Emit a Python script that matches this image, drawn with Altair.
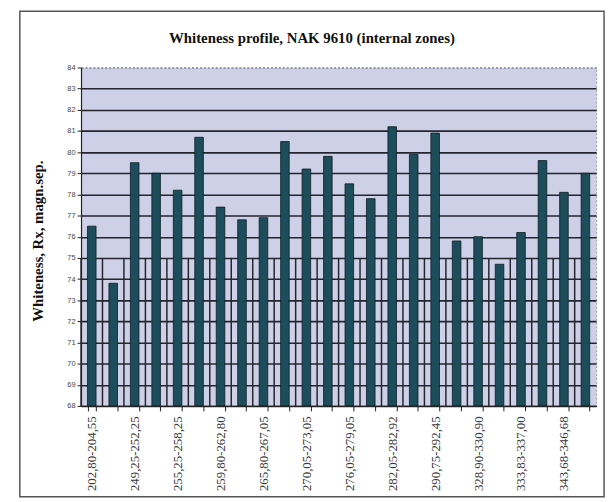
import altair as alt
import pandas as pd

# Labels shown under every second bar (the sheet skipped the others)
zone_labels = ["202,80-204,55", "249,25-252,25", "255,25-258,25", "259,80-262,80",
               "265,80-267,05", "270,05-273,05", "276,05-279,05", "282,05-282,92",
               "290,75-292,45", "328,90-330,90", "333,83-337,00", "343,68-346,68"]
whiteness = [76.5, 73.8, 79.5, 79.0, 78.2, 80.7, 77.4, 76.8, 76.9, 80.5, 79.2, 79.8,
             78.5, 77.8, 81.2, 79.9, 80.9, 75.8, 76.0, 74.7, 76.2, 79.6, 78.1, 79.0]
y_ticks = list(range(68, 85))
title_text = "Whiteness profile, NAK 9610 (internal zones)"

n = len(whiteness)
all_labels = []
for i in range(n):
    all_labels.append(zone_labels[i // 2] if i % 2 == 0 else "")

df = pd.DataFrame({"idx": list(range(n)), "value": whiteness, "label": all_labels})

js_labels = "[" + ",".join("'" + s + "'" for s in all_labels) + "]"

W, H = 522, 343
SERIF = "Liberation Serif"
STEP = W / n

x_scale = alt.Scale(paddingInner=0.6, paddingOuter=0.3)
y_scale = alt.Scale(domain=[68, 84], nice=False, zero=False)

x_axis = alt.Axis(
    title=None, labelExpr=js_labels + "[datum.value]", labelAngle=-90,
    labelFont=SERIF, labelFontSize=13, labelColor="#3a3a3a", labelPadding=5,
    tickBand="extent", tickSize=5, tickColor="#222", domainColor="#222",
    domainWidth=1.2, grid=False, labelOverlap=False, zindex=1,
)
y_axis = alt.Axis(
    title="Whiteness, Rx, magn.sep.", values=y_ticks, format="d",
    titleFont=SERIF, titleFontSize=15, titleFontWeight="bold", titleColor="#111",
    titleX=-44, titleY=H / 2 + 4, titleAngle=-90, titleAlign="center", titleBaseline="middle",
    labelFont="Liberation Sans", labelFontSize=7.5, labelColor="#444", labelPadding=2,
    tickSize=4, tickColor="#222", domainColor="#222", domainWidth=1.2,
    grid=True, gridWidth=1.6,
    gridColor={"condition": {"test": "datum.value == 84", "value": "#8a8a99"}, "value": "#25252f"},
    gridDash={"condition": {"test": "datum.value == 84", "value": [2, 2]}, "value": []},
)

base = alt.Chart(df)

vlines = base.mark_rule(color="#25252f", strokeWidth=1.5, xOffset=-0.3 * STEP).encode(
    x=alt.X("idx:O", scale=x_scale, axis=x_axis, bandPosition=0),
    y=alt.YDatum(68, scale=y_scale, axis=y_axis),
    y2=alt.datum(75),
)

bars = base.mark_bar(color="#1d4d5b", stroke="#0b1d24", strokeWidth=0.8, clip=True).encode(
    x=alt.X("idx:O", scale=x_scale, axis=x_axis),
    y=alt.Y("value:Q", scale=y_scale, axis=y_axis),
    y2=alt.datum(68),
    tooltip=["label", "value"],
)

meta = pd.DataFrame({"t": [title_text]})

frame = alt.Chart(meta).mark_rect(
    fill="transparent", stroke="#555", strokeWidth=1.5
).encode(
    x=alt.value(-62), x2=alt.value(W + 8), y=alt.value(-57), y2=alt.value(H + 92)
)

title = alt.Chart(meta).mark_text(
    font=SERIF, fontSize=15, fontWeight="bold", color="#111",
    align="center", baseline="middle"
).encode(
    text="t:N", x=alt.value(W / 2 - 27), y=alt.value(-30)
)

chart = alt.layer(vlines, bars, frame, title).properties(
    width=W, height=H,
    background="white",
    autosize=alt.AutoSizeParams(type="none"),
    padding={"left": 74, "top": 57, "right": 10, "bottom": 93},
).configure_view(
    fill="#cdd0e6", stroke="#9a9aa8", strokeDash=[2, 2], strokeWidth=1
)

chart.save("out.html", embed_options={"renderer": "svg", "actions": False})
